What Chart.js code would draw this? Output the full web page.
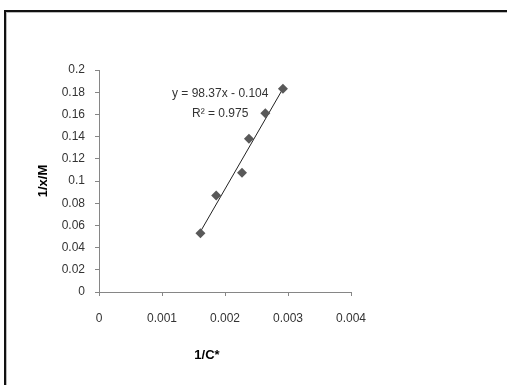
<!DOCTYPE html>
<html>
<head>
<meta charset="utf-8">
<script src="https://cdn.jsdelivr.net/npm/chart.js"></script>
<style>
  html, body { margin: 0; padding: 0; background: #fff; }
  #wrap { position: relative; width: 507px; height: 385px; overflow: hidden; }
  #frame {
    position: absolute; left: 4px; top: 10px; width: 520px; height: 400px;
    border-top: 2px solid #111; border-left: 2px solid #111;
    box-shadow: inset 1px 1px 0 #bbb;
  }
  canvas { position: absolute; left: 0; top: 0; }
</style>
</head>
<body>
<div id="wrap">
  <div id="frame"></div>
  <canvas id="grafico" width="507" height="385"></canvas>
</div>
<script>
// values
const invC = [0.00161, 0.00186, 0.00227, 0.00238, 0.00264, 0.00292];
const invXM = [0.053, 0.087, 0.1075, 0.138, 0.161, 0.183];
const xTicks = [0, 0.001, 0.002, 0.003, 0.004];
const yTicks = [0, 0.02, 0.04, 0.06, 0.08, 0.1, 0.12, 0.14, 0.16, 0.18, 0.2];
const slope = 98.37;
const intercept = -0.104;
const trendX = [0.00161, 0.00294];

const trendPoints = trendX.map(x => ({ x: x, y: slope * x + intercept }));
const dataPoints = invC.map((x, i) => ({ x: x, y: invXM[i] }));

const textFont = '"Liberation Sans", Arial, sans-serif';

const extras = {
  id: 'extras',
  afterDraw(chart) {
    const { ctx, scales, chartArea } = chart;
    ctx.save();
    // trendline label
    ctx.fillStyle = '#333';
    ctx.font = '12px ' + textFont;
    ctx.textAlign = 'center';
    ctx.textBaseline = 'middle';
    const lx = scales.x.getPixelForValue(0.001924);
    ctx.fillText('y = 98.37x - 0.104', lx, scales.y.getPixelForValue(0.1787));
    ctx.fillText('R\u00B2 = 0.975', lx, scales.y.getPixelForValue(0.1605));
    // axis titles
    ctx.fillStyle = '#000';
    ctx.font = 'bold 13px ' + textFont;
    ctx.fillText('1/C*', chartArea.left + 108, chartArea.bottom + 63);
    ctx.translate(43, (chartArea.top + chartArea.bottom) / 2);
    ctx.rotate(-Math.PI / 2);
    ctx.fillText('1/x/M', 0, 0);
    ctx.restore();
  }
};

const ctx = document.getElementById('grafico').getContext('2d');
new Chart(ctx, {
  type: 'scatter',
  data: {
    datasets: [
      {
        label: 'dados',
        data: dataPoints,
        pointStyle: 'rectRot',
        pointRadius: 5,
        backgroundColor: '#595959',
        borderColor: '#595959',
        borderWidth: 0,
        order: 1
      },
      {
        label: 'trend',
        type: 'line',
        data: trendPoints,
        borderColor: '#222',
        borderWidth: 1,
        pointRadius: 0,
        fill: false,
        order: 2
      }
    ]
  },
  options: {
    responsive: false,
    animation: false,
    layout: { padding: { left: 0, top: 70, right: 156, bottom: 0 } },
    plugins: { legend: { display: false }, tooltip: { enabled: false } },
    scales: {
      x: {
        type: 'linear',
        min: 0, max: 0.004,
        afterBuildTicks: s => { s.ticks = xTicks.map(v => ({ value: v })); },
        afterFit: s => { s.height = 93; },
        grid: { drawOnChartArea: false, tickLength: 4, color: '#868686' },
        border: { color: '#868686' },
        ticks: {
          padding: 15,
          color: '#333',
          font: { family: textFont, size: 12 },
          maxRotation: 0,
          callback: v => String(v)
        }
      },
      y: {
        type: 'linear',
        min: 0, max: 0.2,
        afterBuildTicks: s => { s.ticks = yTicks.map(v => ({ value: v })); },
        afterFit: s => { s.width = 99; },
        grid: { drawOnChartArea: false, tickLength: 4, color: '#868686' },
        border: { color: '#868686' },
        ticks: {
          padding: 10,
          color: '#333',
          font: { family: textFont, size: 12 },
          callback: v => String(v)
        }
      }
    }
  },
  plugins: [extras]
});
</script>
</body>
</html>
